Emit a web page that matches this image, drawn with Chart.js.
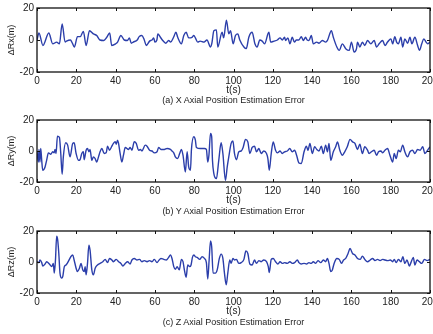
<!DOCTYPE html>
<html>
<head>
<meta charset="utf-8">
<script src="https://cdn.jsdelivr.net/npm/chart.js@4.4.1/dist/chart.umd.min.js"></script>
<style>
    html, body { margin: 0; padding: 0; background: #fff; }
    #wrap { position: relative; width: 433px; height: 334px; overflow: hidden; }
    canvas { position: absolute; left: 0; }
    .cap { position: absolute; left: 37px; width: 393px; text-align: center;
           font: 9px "Liberation Sans", Arial, sans-serif; color: #222; line-height: 11px; }
</style>
</head>
<body>
<div id="wrap">
    <canvas id="cx" width="433" height="111" style="top:0px"></canvas>
    <canvas id="cy" width="433" height="111" style="top:111px"></canvas>
    <canvas id="cz" width="433" height="112" style="top:222px"></canvas>
    <div class="cap" style="top:95px">(a) X Axial Position Estimation Error</div>
    <div class="cap" style="top:206px">(b) Y Axial Position Estimation Error</div>
    <div class="cap" style="top:317px">(c) Z Axial Position Estimation Error</div>
</div>
<script>
// x axis ticks / y axis ticks
const timeTicks = [0, 20, 40, 60, 80, 100, 120, 140, 160, 180, 200];
const errTicks = [-20, 0, 20];

// (a) X axial error
const timeX = [0, 1, 3, 6, 8, 10, 11.4, 12.8, 14.3, 15, 17, 18, 19, 20.6, 22, 23.6, 25, 26.7, 28.7, 30.4,
    32, 34, 35.5, 37, 38, 40, 41, 42.7, 44.4, 46, 47, 48, 49, 51, 52, 53.4, 54.6, 55.6, 57.3, 58.5,
    59.4, 60, 61, 61.5, 62.8, 64, 65.5, 67, 68, 69.5, 70.7, 71.6, 73.5, 74.7, 75.9, 77.2, 78.9, 79.8, 80.6, 81.8,
    83, 85, 86.5, 88.3, 89, 90, 91.3, 92, 94.2, 95, 96.4, 97.6, 98.5, 99.8, 101, 102.2, 103.2, 105.3, 106.5, 107.8,
    109.5, 110.9, 112, 113.4, 114.6, 115.8, 118, 118.9, 120.6, 122.3, 123.7, 124.8, 126, 126.5, 127.7, 128.7, 129.9, 131, 132, 133.3,
    134.5, 135.5, 136.7, 137.5, 138.4, 139.6, 140.6, 142.3, 143.5, 145.2, 146.9, 147.8, 149.8, 150.8, 152.6, 153.8, 155.4, 157.1, 158.9, 160,
    161.4, 162.6, 163.1, 164.3, 165.6, 166.8, 168.2, 169.9, 171.6, 172.8, 174.1, 175.9, 177.1, 178.4, 180.1, 181, 182.1, 183, 183.9, 185.2,
    186.1, 187.2, 188.6, 189.8, 190.8, 192.3, 193.7, 194.6, 195.8, 196.8, 198, 198.8, 200];
const errX = [0, 4.4, -3.4, 4.4, -2.4, -1.3, -2.4, 10, -1.3, -0.7, 0, -2, -4.4, 2.1, 2.1, 5.4, -3.4, 5.8, 3.8, 2.8,
    0, -0.3, 1.7, 4.4, -3.4, -2.4, -1.3, 2.8, 0, -0.3, 1.3, -2, -1.3, 0, 2.1, 2.8, 0, -3.4, -0.7, 0,
    1.3, -1.3, 0, 3.8, 1.7, -0.3, -2, -0.3, -1.3, 1.7, 4.8, 1.7, -2.4, 2.8, 4.8, 1.3, 1.7, 2.8, 1.3, -1.3,
    -0.7, -1.3, 0, -4.4, -2, 5.8, 6.3, -4.4, 4.8, 1.3, 12.4, 3.8, 5.8, -2.4, 2.8, 3.8, 0, -4.4, -5.4, 1.7,
    4.8, -2.4, -4.4, 0, -0.7, -2.4, 4.8, -1.3, -0.7, 0, 1.3, 0, 1.7, -0.3, 1.3, -2.4, 1.7, -1.3, 0, 0,
    2.1, -0.3, 1.7, 0, -0.3, 2.8, -2.4, -1.3, -2, -0.3, -1.3, -0.3, 5.8, 1.7, -4.4, -6.5, -2.4, -5.4, -6.5, -1.3,
    -7.5, -5.4, -1.3, -4.4, -1.3, -3.4, -0.3, -2.4, -0.3, -4.4, -2.4, -0.3, -3.4, -1.3, 0.7, -2.4, 2.1, -1.3, -2.4, 1.7,
    -4.4, 0.7, -2, 1.7, -2.4, 1.7, -3.4, -6.5, -2.4, 0.7, -1.3, -2.4, -1.3];

// (b) Y axial error
const timeY = [0, 0.7, 1, 1.5, 1.9, 2.4, 2.9, 4.1, 4.9, 5.8, 7, 8, 8.7, 9.2, 9.7, 10.4, 11.4, 12.1, 12.8, 13.4,
    14.6, 15.6, 16.8, 18.2, 18.9, 19.9, 21.1, 21.9, 22.8, 23.6, 24, 25, 25.7, 26.4, 27, 27.9, 28.7, 29.6, 30.4, 31.3,
    32.1, 33, 34.2, 35.2, 35.9, 36.9, 38.1, 38.9, 39.8, 40.3, 41, 41.5, 42.3, 43.2, 44, 44.9, 46.6, 47.4, 48.3, 49.5,
    50.5, 51.7, 52.6, 53.4, 55.1, 56, 57.3, 58.5, 59.7, 61.1, 61.9, 63.1, 64.8, 66.2, 67.9, 68.7, 69.6, 70.4, 71.6, 72.6,
    73.5, 74.3, 75.5, 76.4, 77.2, 78.1, 78.6, 79.8, 80.6, 81.1, 83.2, 85.2, 86.2, 86.9, 87.5, 88.3, 88.9, 89.3, 90, 91.3,
    92.5, 93.7, 94.6, 95.9, 96.8, 97.6, 98.8, 99.7, 100.5, 101.5, 102.7, 103.9, 104.9, 106.1, 107.3, 108.3, 109.5, 110.7, 111.7, 112.9,
    114.1, 115.4, 116.8, 117.5, 118.2, 119.2, 120.2, 121.4, 122.3, 123.7, 124.8, 126, 127.4, 128.6, 129.9, 131.1, 132.1, 133.3, 134.5, 135.9,
    137.1, 137.9, 138.9, 140.1, 141.3, 142.4, 143.5, 144.7, 145.7, 146.9, 147.8, 148.6, 149.5, 150.8, 152, 152.9, 154.1, 155.4, 156.6, 157.9,
    159.3, 160.6, 161.8, 163.1, 164.3, 165.6, 166.8, 168.2, 169, 170.2, 171.6, 172.8, 173.8, 175, 175.9, 177.1, 178.4, 179.6, 181, 181.8,
    182.8, 183.9, 184.9, 186.1, 187.2, 188.6, 189.8, 191.1, 192.3, 193.7, 195, 196.3, 197.4, 198.8, 200];
const errY = [-0.5, -7.1, 1, -7.1, 1.6, -6, -12.4, -10.3, -6, -1.2, -2.1, -0.5, -1.2, 1, -1.6, 9.6, 8.8, -1.6, -15, -3.8,
    5.3, 3.8, -3.8, 4.9, 5.3, -1.6, -6, -5.6, -1.6, -0.5, -5.6, 0.5, 1.6, -0.5, 1, -6, -3.8, -4.9, -7.1, -3.8,
    -0.5, 1.6, -1.6, -1.2, 3.1, 0.5, 3.1, 4.9, 6, 4.4, 7, 4.9, -1.6, -7.1, -2.7, 2.3, 1, 2.3, 0.5, 6,
    4.9, 0.5, 1, 0, 3.8, 3.1, 0.5, 0, -1.2, -0.5, 2.3, 1, 1, 1.6, 1, 0, -1.2, -3.8, -4.9, -1.6,
    1, -2.7, -13.5, -0.5, -10.3, -12.4, 1, 9.2, 7, 2.3, 1.6, 1.6, 1, -7.1, -2.7, 11.4, 9.2, -6, -14.6, -17.8,
    -6, 5.3, -1.6, -19, -10.3, -3.8, 4.9, 6.5, -1.6, -5.6, -0.5, 0, 2.3, 7.5, 5.9, -1.6, 2.3, 3.1, -0.5, 1.6,
    -1.6, 0, -1.6, -4.9, -12.4, -1.6, 5.9, 0.5, -1.2, 0, -1.6, -0.5, 0, 1.6, -0.5, 0.5, -2.7, -7.7, -8.1, -0.5,
    3.1, 0.5, 4.9, -1.6, 2.7, 1, 0, 3.1, -1.6, 3.8, -0.5, 4.9, -6, -0.5, 2.7, 5.9, 0.5, -2.7, -0.5, 2.7,
    7.5, 5.9, 4.9, 1, 4.4, -1.6, 2.7, 0.5, -1.6, -0.5, 0.5, -2.7, -0.5, 0, -1.2, 0.5, 1.6, -2.7, -7.1, -1.6,
    -4.9, 0.5, -0.5, 3.8, -0.5, -3.8, -0.5, 0.5, -1.6, 1, 0.5, 2.7, -1.6, 0.5, 2.7];

// (c) Z axial error
const timeZ = [0, 1, 1.5, 2.4, 2.9, 4.1, 4.9, 6.3, 7.5, 8.3, 8.8, 9.4, 10, 10.5, 11.1, 11.7, 12.6, 13.1, 13.9, 14.8,
    15.6, 16.5, 17.2, 18.2, 18.9, 19.9, 20.6, 21.6, 22.4, 23.3, 24, 24.5, 25, 25.7, 26.4, 27, 27.9, 28.7, 29.6, 30.8,
    32.1, 33.5, 34.7, 35.9, 36.9, 38.1, 38.9, 40.3, 41.5, 42.7, 43.7, 44.9, 46.1, 47.4, 48.3, 49.5, 50.9, 52.2, 53.4, 54.6,
    56, 57.3, 58.5, 59.7, 61.1, 61.9, 63.1, 64.5, 65.8, 67, 67.9, 68.7, 69.6, 70.4, 71.3, 72.4, 73.5, 74.3, 75, 75.9,
    76.7, 77.7, 78.4, 79.1, 79.8, 80.6, 81.5, 82.8, 84, 85.2, 86.2, 86.9, 87.6, 88.3, 88.9, 89.6, 90.8, 91.7, 92.8, 93.7,
    94.6, 95.4, 96.3, 97.1, 98.1, 98.8, 99.7, 100.5, 101.5, 102.7, 103.9, 105.3, 106.3, 107.3, 108.3, 109.5, 110.7, 111.7, 112.9, 114.1,
    115.4, 116.8, 117.7, 118.2, 119.2, 120.2, 121.4, 122.6, 123.7, 124.8, 126, 127.4, 128.7, 129.9, 131.1, 132.5, 133.3, 134.5, 135.9, 137.2,
    138.4, 139.6, 140.6, 141.8, 143, 144.4, 145.7, 146.9, 147.8, 148.6, 149.5, 150.3, 151.2, 152.6, 153.8, 155, 156, 157.1, 158.3, 159.3,
    160.6, 161.8, 163.1, 164.5, 165.6, 166.8, 168.2, 169.6, 170.8, 172, 173.3, 174.6, 175.9, 177.1, 178.4, 179.8, 181, 181.8, 182.8, 183.9,
    185.2, 186.2, 187.2, 188.3, 189.5, 190.3, 191.5, 192.3, 193.4, 194.6, 195.8, 197.2, 198.5, 200];
const errZ = [0.2, -0.4, 1.3, -0.4, -2.6, -1.3, 0.2, -1.3, -3, -0.9, -7.2, 1.3, 16.6, 14.5, 5.5, -7.2, -10.4, -9.4, -3, -1.9,
    -0.4, 1.7, 3.4, 4.5, 1.3, -4, -6.2, -4, -0.9, -5.1, -6.2, -3, -8.3, -0.9, 10.9, 7.7, -5.1, -8.3, -4, -1.9,
    -0.9, 0.2, 1.7, -0.4, 2.3, 1.3, 0.2, 1.7, 0.2, -0.9, -2.6, -0.9, 0.2, -1.3, 1.3, 2.3, 1.3, 1.7, 0.2, 0.9,
    0.2, 0.9, 0.2, 1.7, -0.4, 0.9, 2.3, 1.7, 1.3, 3, 4.5, 2.3, -3, -4.7, -3, -5.1, 1.7, 0.2, -5.1, -9.8,
    -1.9, -3, -1.9, 3, 4.5, 3.4, 3, 1.7, 3.4, 2.3, -0.4, -11, 1.3, 13.6, 9.8, -7.2, -7.2, -5.1, 2.3, 5.1,
    2.3, -7.2, -14.7, -7.2, 1.3, -0.9, 2.3, 1.3, 1.7, -0.9, -0.4, 1.7, 7.2, 5.5, -1.3, -1.9, 1.3, -0.9, 0.9, 0.2,
    1.3, 0.2, -3, -6.8, 1.7, 2.3, 0.2, -1.3, 0.2, -0.9, -0.4, -0.9, 0.2, -0.9, -0.4, 1.3, -0.4, -1.3, -0.9, -1.3,
    -0.4, -0.9, 0.2, -0.9, 0.9, -0.4, 1.3, 0.2, 2.3, -0.9, -6.2, -5.1, -0.9, 2.3, 1.7, -0.9, 1.3, 2.3, 5.5, 8.7,
    5.5, 4.5, 2.3, 1.7, 3.8, 1.7, 0.2, 1.3, 2.3, 0.9, 1.7, 0.9, 1.7, 1.3, 0.9, 1.3, 0.2, 1.7, -0.4, 1.7,
    0.2, 3.4, -0.9, 1.3, -2.6, -0.4, 3, -1.9, 1.3, 0.2, -0.9, 1.7, 0.9, 1.7];

const FONT = '"Liberation Sans", Arial, sans-serif';
const LINE_COLOR = '#2b3eaa';

// MATLAB-like axes box with inward tick marks
const boxPlugin = {
    id: 'matlabBox',
    afterDraw(chart) {
        const { ctx, chartArea: a, scales: { x, y } } = chart;
        ctx.save();
        ctx.strokeStyle = '#111';
        ctx.lineWidth = 1.3;
        ctx.strokeRect(a.left, a.top, a.right - a.left, a.bottom - a.top);
        ctx.lineWidth = 1;
        ctx.beginPath();
        x.ticks.forEach(t => {
            const px = Math.round(x.getPixelForValue(t.value)) + 0.5;
            ctx.moveTo(px, a.bottom); ctx.lineTo(px, a.bottom - 3);
            ctx.moveTo(px, a.top); ctx.lineTo(px, a.top + 3);
        });
        y.ticks.forEach(t => {
            const py = Math.round(y.getPixelForValue(t.value)) + 0.5;
            ctx.moveTo(a.left, py); ctx.lineTo(a.left + 3, py);
            ctx.moveTo(a.right, py); ctx.lineTo(a.right - 3, py);
        });
        ctx.stroke();
        ctx.restore();
    }
};

function makePanel(id, times, values, yLabel, plotTop, plotBottom) {
    const canvas = document.getElementById(id);
    const H = canvas.height;
    const points = times.map((t, i) => ({ x: t, y: values[i] }));
    return new Chart(canvas.getContext('2d'), {
        type: 'line',
        data: {
            datasets: [{
                data: points,
                borderColor: LINE_COLOR,
                borderWidth: 1.4,
                pointRadius: 0,
                fill: false,
                cubicInterpolationMode: 'monotone'
            }]
        },
        options: {
            responsive: false,
            animation: false,
            devicePixelRatio: 1,
            layout: { padding: { top: plotTop, right: 3, left: 0, bottom: 0 } },
            plugins: { legend: { display: false }, tooltip: { enabled: false } },
            scales: {
                x: {
                    type: 'linear',
                    min: 0, max: 200,
                    afterBuildTicks: s => { s.ticks = timeTicks.map(v => ({ value: v })); },
                    grid: { display: false, drawTicks: false },
                    border: { display: false },
                    ticks: { color: '#222', padding: 3, maxRotation: 0, font: { family: FONT, size: 10 } },
                    title: { display: true, text: 't(s)', color: '#222', font: { family: FONT, size: 10 },
                             padding: { top: 0, bottom: (H - plotBottom) - 18 - 6 } },
                    afterFit: s => { s.height = H - plotBottom; s.paddingLeft = 0; s.paddingRight = 0; }
                },
                y: {
                    min: -20, max: 20,
                    afterBuildTicks: s => { s.ticks = errTicks.map(v => ({ value: v })); },
                    grid: { display: false, drawTicks: false },
                    border: { display: false },
                    ticks: { color: '#222', padding: 3, font: { family: FONT, size: 10 } },
                    title: { display: true, text: yLabel, color: '#222', font: { family: FONT, size: 9 },
                             padding: { top: 6, bottom: 0 } },
                    afterFit: s => { s.width = 37; s.paddingTop = 0; s.paddingBottom = 0; }
                }
            }
        },
        plugins: [boxPlugin]
    });
}

makePanel('cx', timeX, errX, 'ΔRx(m)', 8, 72);
makePanel('cy', timeY, errY, 'ΔRy(m)', 9, 71);
makePanel('cz', timeZ, errZ, 'ΔRz(m)', 9, 71);
</script>
</body>
</html>
